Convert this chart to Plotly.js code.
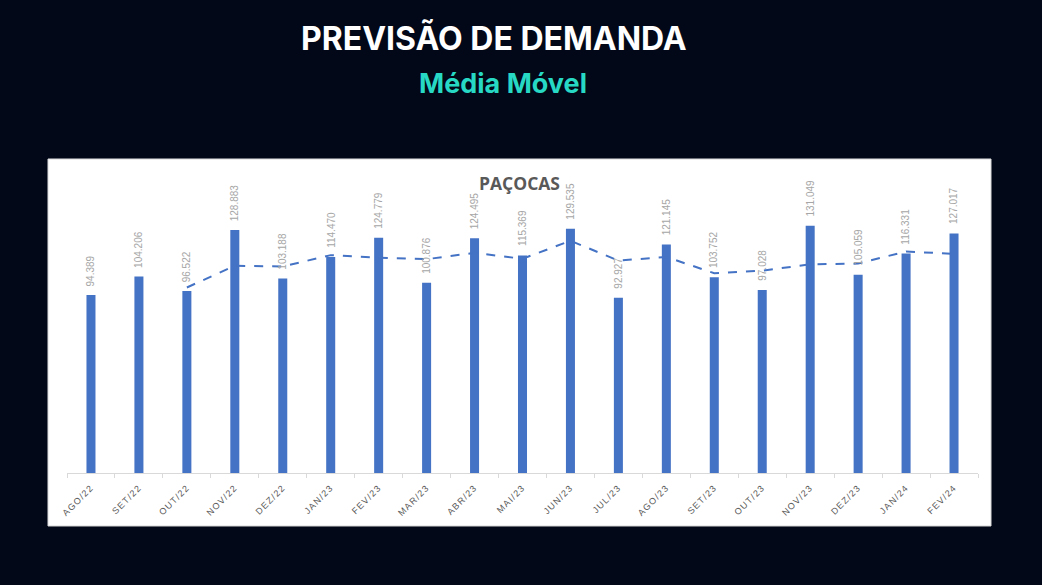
<!DOCTYPE html>
<html>
<head>
<meta charset="utf-8">
<script src="https://cdn.plot.ly/plotly-3.0.1.min.js"></script>
<style>
html,body{margin:0;padding:0;background:#020817;}
#chart{width:1042px;height:585px;}
</style>
</head>
<body>
<div id="chart"></div>
<script>
const categories = ["AGO/22","SET/22","OUT/22","NOV/22","DEZ/22","JAN/23","FEV/23","MAR/23","ABR/23","MAI/23","JUN/23","JUL/23","AGO/23","SET/23","OUT/23","NOV/23","DEZ/23","JAN/24","FEV/24"];
const demand = [94.389,104.206,96.522,128.883,103.188,114.470,124.779,100.876,124.495,115.369,129.535,92.927,121.145,103.752,97.028,131.049,105.059,116.331,127.017];
const demandLabels = ["94.389","104.206","96.522","128.883","103.188","114.470","124.779","100.876","124.495","115.369","129.535","92.927","121.145","103.752","97.028","131.049","105.059","116.331","127.017"];
const movingAvg = [null,null,98.372,109.870,109.531,115.514,114.146,113.375,116.717,113.580,123.133,112.610,114.536,105.941,107.308,110.610,111.045,117.480,116.136];

const barTrace = {
  type: "bar",
  x: categories,
  y: demand,
  marker: {color: "#4472C4", line: {width: 0}},
  hoverinfo: "x+y",
  showlegend: false
};
const lineTrace = {
  type: "scatter",
  mode: "lines",
  x: categories,
  y: movingAvg,
  line: {color: "#4472C4", width: 2, dash: "dash"},
  connectgaps: false,
  showlegend: false
};

const labelAnnotations = categories.map((c, i) => ({
  x: c, y: demand[i], xref: "x", yref: "y",
  text: demandLabels[i], textangle: -90,
  xanchor: "center", yanchor: "bottom", yshift: 7,
  showarrow: false,
  font: {family: "Liberation Sans, Arial, sans-serif", size: 10, color: "#a6a6a6"}
}));

const layout = {
  width: 1042,
  height: 585,
  paper_bgcolor: "#020817",
  plot_bgcolor: "#ffffff",
  margin: {l: 67, r: 64, t: 215, b: 112},
  bargap: 0.812,
  showlegend: false,
  xaxis: {
    type: "category",
    showgrid: false,
    zeroline: false,
    showline: true,
    linecolor: "#d9d9d9",
    linewidth: 1,
    ticks: "outside",
    tickson: "boundaries",
    ticklen: 4,
    tickcolor: "#d9d9d9",
    tickangle: -45,
    ticklabelstandoff: 5,
    tickfont: {family: "Liberation Sans, Arial, sans-serif", size: 9, color: "#595959"},
    fixedrange: true
  },
  yaxis: {
    range: [0, 136.8],
    visible: false,
    showgrid: false,
    zeroline: false,
    fixedrange: true
  },
  shapes: [{
    type: "rect", xref: "paper", yref: "paper", layer: "below",
    x0: -0.02086, x1: 1.01427, y0: -0.2054, y1: 1.2171,
    fillcolor: "#ffffff", line: {color: "#d9d9d9", width: 1}
  }],
  annotations: labelAnnotations.concat([
    {text: "<b>PREVISÃO DE DEMANDA</b>", xref: "paper", yref: "paper", x: 0.4687, y: 1.686,
     xanchor: "center", yanchor: "middle", showarrow: false,
     font: {family: "Inter, Open Sans, sans-serif", size: 32, color: "#ffffff", weight: 900}},
    {text: "<b>Média Móvel</b>", xref: "paper", yref: "paper", x: 0.4786, y: 1.508,
     xanchor: "center", yanchor: "middle", showarrow: false,
     font: {family: "Inter, Open Sans, sans-serif", size: 27, color: "#27D9C5", weight: 900}},
    {text: "<b>PAÇOCAS</b>", xref: "paper", yref: "paper", x: 0.4967, y: 1.124,
     xanchor: "center", yanchor: "middle", showarrow: false,
     font: {family: "Open Sans, Liberation Sans, sans-serif", size: 17.5, color: "#595959"}}
  ])
};

Plotly.newPlot("chart", [barTrace, lineTrace], layout, {displayModeBar: false, staticPlot: true}).then(gd => {
  gd.querySelectorAll(".xtick text").forEach(el => { el.style.letterSpacing = "1.2px"; });
});
</script>
</body>
</html>
